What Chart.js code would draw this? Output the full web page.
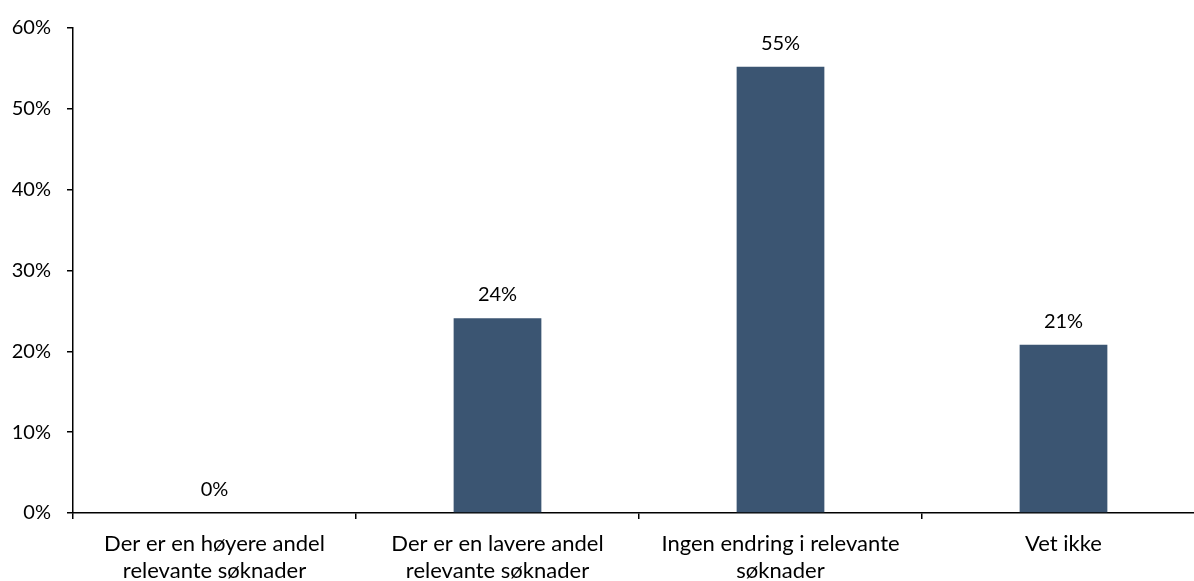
<!DOCTYPE html>
<html>
<head>
<meta charset="utf-8">
<script src="https://cdn.jsdelivr.net/npm/chart.js@4/dist/chart.umd.min.js"></script>
<style>
    html, body { margin: 0; padding: 0; background: #fff; overflow: hidden; }
    #wrap { width: 1205px; height: 581px; }
</style>
</head>
<body>
<div id="wrap"><canvas id="answers"></canvas></div>
<script>
const categories = [
    ['Der er en høyere andel', 'relevante søknader'],
    ['Der er en lavere andel', 'relevante søknader'],
    ['Ingen endring i relevante', 'søknader'],
    'Vet ikke'
];
const shares = [0, 24.1, 55.2, 20.8];
const valueLabels = ['0%', '24%', '55%', '21%'];

const barColor = '#3b5572';
const fontFamily = 'Lato, "Open Sans", sans-serif';

// draws the percentage above each bar
const valueLabelPlugin = {
    id: 'valueLabels',
    afterDatasetsDraw(chart) {
        const ctx = chart.ctx;
        const meta = chart.getDatasetMeta(0);
        ctx.save();
        ctx.font = '20px ' + fontFamily;
        ctx.fillStyle = '#000';
        ctx.textAlign = 'center';
        ctx.textBaseline = 'alphabetic';
        meta.data.forEach((bar, i) => {
            ctx.fillText(valueLabels[i], bar.x, bar.y - 17);
        });
        ctx.restore();
    }
};

function createChart() {
    const ctx = document.getElementById('answers').getContext('2d');

    new Chart(ctx, {
        type: 'bar',
        data: {
            labels: categories,
            datasets: [{
                data: shares,
                backgroundColor: barColor,
                borderWidth: 0,
                barPercentage: 0.31,
                categoryPercentage: 1
            }]
        },
        options: {
            responsive: true,
            maintainAspectRatio: false,
            animation: false,
            layout: { padding: { top: 28, left: 0, right: 0, bottom: 0 } },
            plugins: {
                legend: { display: false },
                tooltip: { enabled: false }
            },
            scales: {
                x: {
                    afterFit: (scale) => { scale.height = 68; },
                    grid: {
                        display: true,
                        drawOnChartArea: false,
                        drawTicks: true,
                        tickLength: 6,
                        color: '#000',
                        lineWidth: 1.5
                    },
                    border: { color: '#000', width: 1.5 },
                    ticks: {
                        color: '#000',
                        font: { family: fontFamily, size: 22, lineHeight: 1.2 },
                        padding: 12,
                        maxRotation: 0,
                        autoSkip: false
                    }
                },
                y: {
                    min: 0,
                    max: 60,
                    afterFit: (scale) => { scale.width = 73; },
                    grid: {
                        display: true,
                        drawOnChartArea: false,
                        drawTicks: true,
                        tickLength: 6,
                        color: '#000',
                        lineWidth: 1.5
                    },
                    border: { color: '#000', width: 1.5 },
                    ticks: {
                        stepSize: 10,
                        color: '#000',
                        font: { family: fontFamily, size: 20 },
                        padding: 16,
                        callback: (v) => v + '%'
                    }
                }
            }
        },
        plugins: [valueLabelPlugin]
    });
}

window.addEventListener('load', createChart);
</script>
</body>
</html>
